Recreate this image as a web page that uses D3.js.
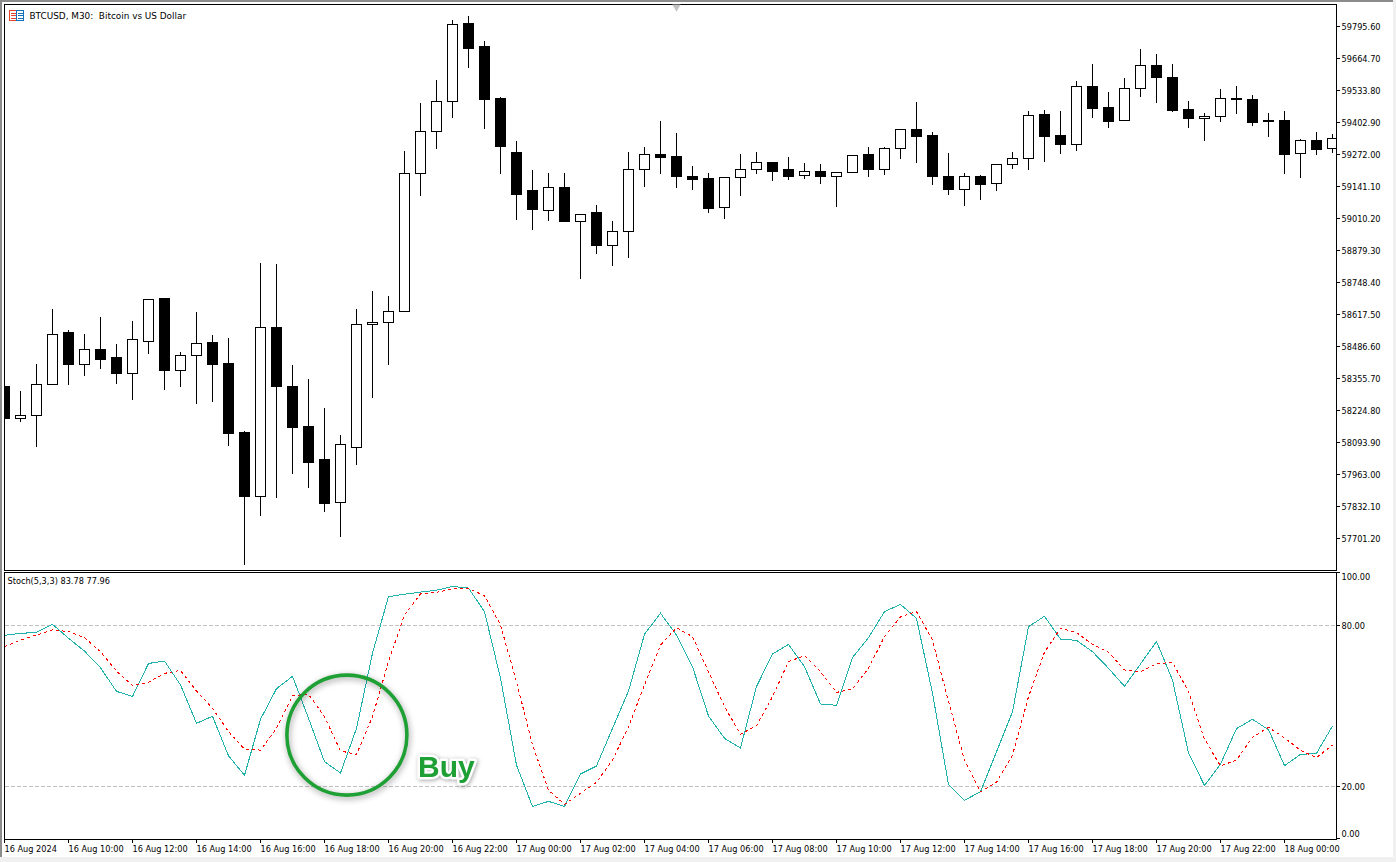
<!DOCTYPE html>
<html>
<head>
<meta charset="utf-8">
<title>BTCUSD, M30</title>
<script src="https://cdn.jsdelivr.net/npm/d3@7"></script>
<style>
    html, body { margin: 0; padding: 0; background: #f0f0f0; overflow: hidden; }
    svg { display: block; }
    text { font-family: "DejaVu Sans", sans-serif; font-size: 8.2px; fill: #000; }
</style>
</head>
<body>
<div id="chart"></div>
<script>
// candles, M30
var candleOpen = [
    58321, 58193, 58204, 58332, 58542, 58412, 58476, 58440, 58375, 58506,
    58681, 58388, 58449, 58501, 58419, 58133, 57872, 58566, 58325, 58161,
    58026, 57848, 58073, 58576, 58584, 58629, 59193, 59365, 59490, 59806,
    59712, 59503, 59282, 59123, 59042, 59139, 58997, 59033, 58899, 58956,
    59210, 59274, 59262, 59184, 59172, 59054, 59177, 59210, 59241, 59209,
    59185, 59204, 59181, 59197, 59270, 59210, 59296, 59376, 59348, 59184,
    59127, 59184, 59153, 59230, 59255, 59434, 59348, 59312, 59552, 59466,
    59410, 59541, 59638, 59589, 59458, 59418, 59427, 59503, 59499, 59413,
    59413, 59275, 59331, 59296
];
var candleClose = [
    58194, 58205, 58332, 58536, 58411, 58475, 58435, 58378, 58516, 58680,
    58390, 58451, 58500, 58415, 58129, 57871, 58565, 58321, 58157, 58014,
    57846, 58087, 58577, 58586, 58631, 59195, 59367, 59490, 59805, 59705,
    59495, 59303, 59110, 59049, 59138, 58996, 59027, 58898, 58958, 59211,
    59273, 59258, 59180, 59168, 59053, 59179, 59211, 59240, 59204, 59184,
    59203, 59180, 59199, 59269, 59209, 59297, 59375, 59344, 59180, 59127,
    59184, 59151, 59232, 59256, 59432, 59344, 59311, 59551, 59462, 59409,
    59543, 59638, 59585, 59454, 59421, 59428, 59502, 59495, 59401, 59406,
    59274, 59330, 59294, 59338
];
var candleHigh = [
    58350, 58305, 58419, 58644, 58558, 58538, 58611, 58497, 58595, 58680,
    58685, 58468, 58628, 58534, 58525, 58145, 58832, 58828, 58411, 58354,
    58239, 58125, 58640, 58714, 58697, 59290, 59483, 59577, 59826, 59839,
    59740, 59511, 59331, 59209, 59200, 59200, 59029, 59069, 59000, 59286,
    59303, 59413, 59364, 59229, 59200, 59180, 59278, 59286, 59241, 59262,
    59241, 59237, 59200, 59274, 59303, 59303, 59376, 59487, 59368, 59282,
    59200, 59192, 59233, 59286, 59454, 59458, 59450, 59573, 59646, 59528,
    59585, 59704, 59687, 59646, 59491, 59442, 59540, 59556, 59519, 59442,
    59454, 59339, 59368, 59356
];
var candleLow = [
    58186, 58179, 58077, 58332, 58333, 58366, 58395, 58337, 58268, 58456,
    58309, 58325, 58255, 58260, 58080, 57593, 57797, 57867, 57969, 57908,
    57810, 57711, 58002, 58276, 58411, 58629, 59103, 59296, 59423, 59626,
    59380, 59196, 59008, 58967, 59004, 58996, 58763, 58869, 58816, 58849,
    59143, 59196, 59139, 59127, 59033, 59012, 59106, 59196, 59164, 59168,
    59172, 59155, 59061, 59197, 59184, 59192, 59254, 59241, 59151, 59110,
    59065, 59086, 59123, 59213, 59209, 59245, 59278, 59290, 59425, 59384,
    59410, 59511, 59483, 59446, 59384, 59331, 59405, 59438, 59389, 59344,
    59196, 59176, 59270, 59282
];

// Stochastic(5,3,3)
var stochMain = [
    76.3, 77.0, 77.4, 80.4, 75.2, 70.4, 64.2, 55.4, 53.5, 65.8,
    66.7, 57.8, 43.5, 46.1, 31.4, 24.1, 45.0, 56.4, 61.0, 45.4,
    29.2, 25.0, 41.6, 69.6, 90.7, 91.6, 92.4, 93.1, 94.5, 93.9,
    85.1, 60.3, 27.9, 12.5, 14.4, 12.5, 24.6, 27.6, 41.6, 55.5,
    76.7, 84.5, 76.4, 64.6, 46.2, 37.9, 34.3, 57.2, 69.3, 72.9,
    64.6, 50.7, 50.2, 68.0, 75.4, 85.1, 87.8, 82.6, 54.7, 20.7,
    14.8, 18.0, 32.9, 47.8, 79.5, 83.4, 74.9, 74.4, 70.2, 64.0,
    57.3, 65.6, 74.0, 59.6, 32.5, 20.3, 28.3, 41.5, 45.0, 41.1,
    27.7, 31.9, 32.3, 42.5
];
var stochSignal = [
    72.1, 74.5, 76.4, 78.3, 77.7, 75.4, 70.2, 63.0, 57.5, 58.8,
    62.1, 63.2, 55.5, 49.1, 40.4, 33.9, 33.5, 41.6, 53.8, 54.3,
    46.0, 33.2, 31.9, 46.0, 66.5, 83.9, 91.7, 92.3, 93.6, 93.7,
    91.1, 80.1, 59.0, 35.4, 18.6, 13.3, 17.4, 21.5, 29.8, 42.2,
    57.8, 72.7, 79.1, 75.8, 62.7, 49.7, 39.4, 42.6, 53.4, 66.5,
    68.7, 62.7, 55.0, 56.3, 64.0, 75.8, 83.2, 85.1, 74.5, 51.6,
    29.8, 18.0, 21.5, 31.7, 53.4, 70.0, 78.9, 77.3, 72.9, 70.0,
    63.4, 62.7, 65.7, 66.2, 55.3, 37.6, 27.6, 29.8, 38.3, 42.0,
    38.1, 33.4, 30.7, 35.4
];

var priceTicks = [
    59795.6, 59664.7, 59533.8, 59402.9, 59272.0, 59141.1, 59010.2, 58879.3, 58748.4,
    58617.5, 58486.6, 58355.7, 58224.8, 58093.9, 57963.0, 57832.1, 57701.2
];
var stochTicks = [100, 80, 20, 0];
var stochLevels = [80, 20];
var timeLabels = [
    "16 Aug 2024", "16 Aug 10:00", "16 Aug 12:00", "16 Aug 14:00", "16 Aug 16:00", "16 Aug 18:00",
    "16 Aug 20:00", "16 Aug 22:00", "17 Aug 00:00", "17 Aug 02:00", "17 Aug 04:00", "17 Aug 06:00",
    "17 Aug 08:00", "17 Aug 10:00", "17 Aug 12:00", "17 Aug 14:00", "17 Aug 16:00", "17 Aug 18:00",
    "17 Aug 20:00", "17 Aug 22:00", "18 Aug 00:00"
];
var labelStep = 4; // one label every 4 bars

// where the hand drawn note sits, in bar index and stochastic value
var buyCircle = { bar: 21.4, value: 39.1 };
var buyText = { bar: 25.85, value: 23.4 };

var width = 1396, height = 862;

var svg = d3.select("#chart")
    .append("svg")
    .attr("width", width)
    .attr("height", height);

// window chrome
svg.append("rect").attr("width", 1393).attr("height", 857).attr("fill", "#fff");
svg.append("rect").attr("width", 1393).attr("height", 2).attr("fill", "#8c8c8c");
svg.append("rect").attr("width", 2).attr("height", 857).attr("fill", "#8c8c8c");

var defs = svg.append("defs");
defs.append("clipPath").attr("id", "clip-price")
    .append("rect").attr("x", 4).attr("y", 4).attr("width", 1332).attr("height", 566);
defs.append("clipPath").attr("id", "clip-stoch")
    .append("rect").attr("x", 4).attr("y", 572).attr("width", 1332).attr("height", 267);

// scales
var xBar = d3.scaleLinear().domain([0, 83]).range([4, 1332]);
var yPrice = d3.scaleLinear().domain([57701.2, 59795.6]).range([538, 26]);
var yStoch = d3.scaleLinear().domain([0, 100]).range([840, 571.7]);

var barCenter = function (i) { return xBar(i) + 0.5; };
var snapPrice = function (p) { return Math.round(yPrice(p)) + 0.5; };

// candles
var candles = svg.append("g")
    .attr("clip-path", "url(#clip-price)")
    .attr("shape-rendering", "crispEdges");

candles.selectAll("line.wick")
    .data(candleOpen)
    .enter()
    .append("line")
    .attr("class", "wick")
    .attr("x1", function (d, i) { return barCenter(i); })
    .attr("x2", function (d, i) { return barCenter(i); })
    .attr("y1", function (d, i) { return snapPrice(candleHigh[i]); })
    .attr("y2", function (d, i) { return snapPrice(candleLow[i]); })
    .attr("stroke", "#000");

candles.selectAll("rect.body")
    .data(candleOpen)
    .enter()
    .append("rect")
    .attr("class", "body")
    .attr("x", function (d, i) { return barCenter(i) - 5; })
    .attr("width", 10)
    .attr("y", function (d, i) { return snapPrice(Math.max(d, candleClose[i])); })
    .attr("height", function (d, i) {
        return snapPrice(Math.min(d, candleClose[i])) - snapPrice(Math.max(d, candleClose[i]));
    })
    .attr("fill", function (d, i) { return candleClose[i] >= d ? "#fff" : "#000"; })
    .attr("stroke", "#000");

// level lines
svg.append("g")
    .attr("shape-rendering", "crispEdges")
    .selectAll("line")
    .data(stochLevels)
    .enter()
    .append("line")
    .attr("x1", 5)
    .attr("x2", 1336)
    .attr("y1", function (d) { return yStoch(d) + 0.5; })
    .attr("y2", function (d) { return yStoch(d) + 0.5; })
    .attr("stroke", "#c0c0c0")
    .attr("stroke-dasharray", "4,2");

// stochastic lines
var stochLine = d3.line()
    .x(function (d, i) { return barCenter(i); })
    .y(function (d) { return yStoch(d); });

var stochG = svg.append("g")
    .attr("clip-path", "url(#clip-stoch)")
    .attr("shape-rendering", "crispEdges");
stochG.append("path")
    .attr("d", stochLine(stochMain))
    .attr("fill", "none")
    .attr("stroke", "#20b2aa")
    .attr("stroke-width", 1);
stochG.append("path")
    .attr("d", stochLine(stochSignal))
    .attr("fill", "none")
    .attr("stroke", "#ff0000")
    .attr("stroke-width", 1)
    .attr("stroke-dasharray", "3,3");

// panel frames
svg.append("g")
    .attr("shape-rendering", "crispEdges")
    .attr("fill", "none")
    .attr("stroke", "#000")
    .call(function (g) {
        g.append("rect").attr("x", 4.5).attr("y", 4.5).attr("width", 1332).attr("height", 566);
        g.append("rect").attr("x", 4.5).attr("y", 572.5).attr("width", 1332).attr("height", 267);
    });

// price axis
svg.append("g")
    .attr("transform", "translate(1336,0)")
    .attr("shape-rendering", "crispEdges")
    .call(d3.axisRight(yPrice)
        .tickValues(priceTicks)
        .tickFormat(d3.format(".2f"))
        .tickSize(4)
        .tickPadding(1.5))
    .call(function (g) { g.select(".domain").remove(); })
    .selectAll("text")
    .attr("y", 0.7)
    .style("font-family", "'DejaVu Sans', sans-serif")
    .style("font-size", "8.2px");

// stochastic axis, 100 and 0 are pushed inside the panel
svg.append("g")
    .attr("transform", "translate(1336,0)")
    .attr("shape-rendering", "crispEdges")
    .call(d3.axisRight(yStoch)
        .tickValues(stochTicks)
        .tickFormat(d3.format(".2f"))
        .tickSize(4)
        .tickPadding(1.5))
    .call(function (g) { g.select(".domain").remove(); })
    .call(function (g) {
        g.selectAll(".tick").filter(function (d) { return d === 0; })
            .attr("transform", "translate(0,838.5)")
            .select("text").attr("y", -4.5);
        g.selectAll(".tick").filter(function (d) { return d === 100; })
            .select("text").attr("y", 5.5);
        g.selectAll(".tick").filter(function (d) { return d === 80 || d === 20; })
            .select("text").attr("y", 0.7);
    })
    .selectAll("text")
    .style("font-family", "'DejaVu Sans', sans-serif")
    .style("font-size", "8.2px");

// time axis
svg.append("g")
    .attr("transform", "translate(0,839)")
    .attr("shape-rendering", "crispEdges")
    .call(d3.axisBottom(xBar)
        .tickValues(timeLabels.map(function (d, i) { return i * labelStep; }))
        .tickFormat(function (d) { return timeLabels[d / labelStep]; })
        .tickSize(4)
        .tickPadding(3))
    .call(function (g) { g.select(".domain").remove(); })
    .selectAll("text")
    .attr("text-anchor", "start")
    .style("font-family", "'DejaVu Sans', sans-serif")
    .style("font-size", "8.2px");

// chart title with the little icon
var icon = svg.append("g").attr("shape-rendering", "crispEdges").attr("fill", "none");
icon.append("rect").attr("x", 9.5).attr("y", 10.5).attr("width", 7).attr("height", 10).attr("stroke", "#e8432e");
icon.append("rect").attr("x", 16.5).attr("y", 10.5).attr("width", 7).attr("height", 10).attr("stroke", "#1270bc");
[13, 15.5, 18].forEach(function (vY) {
    icon.append("line").attr("x1", 11).attr("x2", 16).attr("y1", vY).attr("y2", vY).attr("stroke", "#e8432e");
    icon.append("line").attr("x1", 18).attr("x2", 23).attr("y1", vY).attr("y2", vY).attr("stroke", "#1270bc");
});

svg.append("text")
    .attr("x", 29.5)
    .attr("y", 18.5)
    .style("white-space", "pre")
    .style("font-size", "8.9px")
    .text("BTCUSD, M30:  Bitcoin vs US Dollar");

svg.append("text")
    .attr("x", 7.5)
    .attr("y", 584)
    .text("Stoch(5,3,3) 83.78 77.96");

// small marker on the top edge
svg.append("path")
    .attr("d", d3.symbol().type(d3.symbolTriangle).size(30)())
    .attr("transform", "translate(676.5,7) rotate(180)")
    .attr("fill", "#c4c4c4");

// buy note
svg.append("circle")
    .attr("cx", barCenter(buyCircle.bar))
    .attr("cy", yStoch(buyCircle.value))
    .attr("r", 60)
    .attr("fill", "none")
    .attr("stroke", "#1fa035")
    .attr("stroke-width", 3.6)
    .style("filter", "drop-shadow(1px 2px 3px rgba(0,0,0,0.4))");

svg.append("text")
    .attr("x", barCenter(buyText.bar))
    .attr("y", yStoch(buyText.value))
    .style("font-family", "'Liberation Sans', sans-serif")
    .style("font-size", "30px")
    .style("font-weight", "bold")
    .style("fill", "#1fa035")
    .style("stroke", "#fff")
    .style("stroke-width", "5px")
    .style("stroke-linejoin", "round")
    .style("paint-order", "stroke")
    .style("filter", "drop-shadow(1px 1px 2px rgba(0,0,0,0.35))")
    .text("Buy");
</script>
</body>
</html>
